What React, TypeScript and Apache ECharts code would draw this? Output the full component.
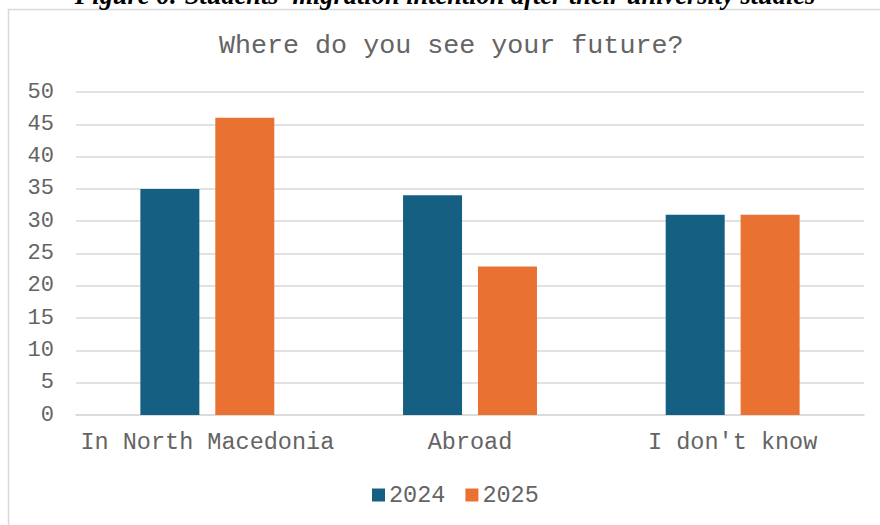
import React, { useEffect, useRef } from "react";
import * as echarts from "echarts";

const categories = ["In North Macedonia", "Abroad", "I don't know"];
const values2024 = [35, 34, 31];
const values2025 = [46, 23, 31];
const seriesNames = ["2024", "2025"];
const yTicks = { min: 0, max: 50, interval: 5 };
const caption = "Figure 6: Students' migration intention after their university studies";
const titleText = "Where do you see your future?";

const MONO = "'Liberation Mono', 'Courier New', monospace";
const TEXT = "#646464";

export default function App() {
  const ref = useRef<HTMLDivElement>(null);
  useEffect(() => {
    if (!ref.current) return;
    const chart = echarts.init(ref.current, null, { renderer: "svg" });
    chart.setOption({
      animation: false,
      backgroundColor: "#ffffff",
      title: {
        text: titleText,
        left: 219,
        top: 32,
        padding: 0,
        textStyle: { fontFamily: MONO, fontSize: 26.7, fontWeight: "normal", color: TEXT },
      },
      graphic: [
        {
          type: "rect",
          shape: { x: 8.5, y: 9.5, width: 900, height: 600 },
          style: { fill: "none", stroke: "#d9d9d9", lineWidth: 1.5 },
          silent: true,
        },
        {
          type: "text",
          x: 445,
          y: -5,
          style: {
            text: caption,
            fontFamily: "'Liberation Serif', 'Times New Roman', serif",
            fontSize: 26.4,
            fontWeight: "bold",
            fontStyle: "italic",
            fill: "#000000",
            align: "center",
            verticalAlign: "middle",
          },
          silent: true,
        },
      ],
      legend: {
        data: seriesNames,
        bottom: 18,
        left: 372,
        padding: 0,
        itemWidth: 13,
        itemHeight: 13,
        itemGap: 20,
        icon: "rect",
        textStyle: { fontFamily: MONO, fontSize: 23.5, color: TEXT, padding: [0, 0, 0, -1] },
      },
      grid: { left: 76, right: 16, top: 92, bottom: 110, containLabel: false },
      xAxis: {
        type: "category",
        data: categories,
        axisLine: { show: true, lineStyle: { color: "#d9d9d9", width: 1.5 } },
        axisTick: { show: false },
        axisLabel: { fontFamily: MONO, fontSize: 23.5, color: TEXT, margin: 15, interval: 0 },
      },
      yAxis: {
        type: "value",
        min: yTicks.min,
        max: yTicks.max,
        interval: yTicks.interval,
        axisLine: { show: false },
        axisTick: { show: false },
        splitLine: { lineStyle: { color: "#d9d9d9", width: 1.5 } },
        axisLabel: { fontFamily: MONO, fontSize: 22, color: TEXT, margin: 22 },
      },
      series: [
        {
          name: seriesNames[0],
          type: "bar",
          data: values2024,
          barWidth: 59,
          barGap: "27%",
          itemStyle: { color: "#156082" },
        },
        {
          name: seriesNames[1],
          type: "bar",
          data: values2025,
          barWidth: 59,
          barGap: "27%",
          itemStyle: { color: "#E97132" },
        },
      ],
    });
    return () => chart.dispose();
  }, []);
  return (
    <div
      ref={ref}
      style={{ position: "absolute", left: 0, top: 0, width: 880, height: 525 }}
    />
  );
}
